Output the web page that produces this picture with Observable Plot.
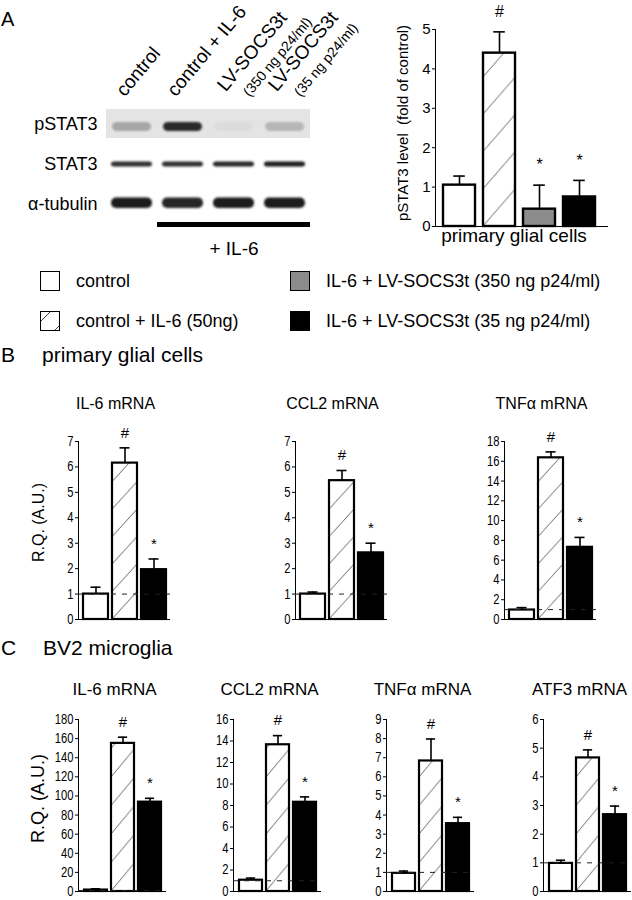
<!DOCTYPE html>
<html>
<head>
<meta charset="utf-8">
<script src="https://cdn.jsdelivr.net/npm/d3@7"></script>
<script src="https://cdn.jsdelivr.net/npm/@observablehq/plot@0.6"></script>
<style>
html,body{margin:0;padding:0;background:#fff;}
#fig{position:relative;width:632px;height:900px;overflow:hidden;background:#fff;font-family:"Liberation Sans",Arial,Helvetica,sans-serif;color:#000;}
#fig svg{position:absolute;}
.t{position:absolute;white-space:nowrap;line-height:1;}
.leg{position:absolute;display:flex;align-items:center;height:24px;white-space:nowrap;font-size:18px;}
.leg svg{position:static !important;margin-right:16px;}
</style>
</head>
<body>
<div id="fig"></div>
<script>
// ---------------- data ----------------
const groups = ["control", "control + IL-6 (50ng)", "IL-6 + LV-SOCS3t (350 ng p24/ml)", "IL-6 + LV-SOCS3t (35 ng p24/ml)"];
const groupsQ = [groups[0], groups[1], groups[3]];

// western blot (panel A, left)
const lanes = ["control", "control + IL-6", "LV-SOCS3t 350", "LV-SOCS3t 35"];
const laneLabels = ["control", "control + IL-6", "LV-SOCS3t", "LV-SOCS3t"];
const laneSubLabels = ["", "", "(350 ng p24/ml)", "(35 ng p24/ml)"];
const blotRows = ["pSTAT3", "STAT3", "α-tubulin"];
const bandPSTAT3 = [0.3, 0.9, 0.04, 0.22];
const bandSTAT3 = [0.88, 0.88, 0.92, 0.97];
const bandTubulin = [0.97, 0.92, 0.97, 0.95];
const laneIL6 = [false, true, true, true];
const il6Label = "+ IL-6";

// pSTAT3 quantification (panel A, right)
const pstatMean = [1.05, 4.4, 0.44, 0.75];
const pstatErr = [1.28, 4.94, 1.05, 1.17];
const pstatSig = ["", "#", "*", "*"];
const pstatTicks = [0, 1, 2, 3, 4, 5];

// panel B: primary glial cells
const bTitles = ["IL-6 mRNA", "CCL2 mRNA", "TNFα mRNA"];
const bIL6Mean = [1.0, 6.15, 1.96], bIL6Err = [1.27, 6.75, 2.38];
const bCCL2Mean = [1.0, 5.46, 2.62], bCCL2Err = [1.08, 5.86, 3.0];
const bTNFMean = [0.96, 16.35, 7.3], bTNFErr = [1.2, 16.95, 8.3];
const bTicks7 = [0, 1, 2, 3, 4, 5, 6, 7];
const bTicks18 = [0, 2, 4, 6, 8, 10, 12, 14, 16, 18];

// panel C: BV2 microglia
const cTitles = ["IL-6 mRNA", "CCL2 mRNA", "TNFα mRNA", "ATF3 mRNA"];
const cIL6Mean = [1.5, 155, 93.5], cIL6Err = [2.8, 161.5, 97.5];
const cCCL2Mean = [1.05, 13.65, 8.3], cCCL2Err = [1.25, 14.5, 8.8];
const cTNFMean = [0.95, 6.83, 3.55], cTNFErr = [1.07, 7.98, 3.88];
const cATF3Mean = [0.98, 4.66, 2.68], cATF3Err = [1.09, 4.94, 2.98];
const cTicks180 = [0, 20, 40, 60, 80, 100, 120, 140, 160, 180];
const cTicks16 = [0, 2, 4, 6, 8, 10, 12, 14, 16];
const cTicks9 = [0, 1, 2, 3, 4, 5, 6, 7, 8, 9];
const cTicks6 = [0, 1, 2, 3, 4, 5, 6];
const sig3 = ["", "#", "*"];
const yLabelRQ = "R.Q. (A.U.)";
const yLabelA = "pSTAT3 level  (fold of control)";
const xLabelA = "primary glial cells";

// ---------------- helpers ----------------
const fig = document.getElementById("fig");
const SANS = '"Liberation Sans", Arial, Helvetica, sans-serif';

function txt(s, left, top, size) {
  const d = document.createElement("div");
  d.className = "t"; d.textContent = s;
  d.style.left = left + "px"; d.style.top = top + "px"; d.style.fontSize = size + "px";
  fig.appendChild(d);
}
function fillFor(g, pid) {
  const i = groups.indexOf(g);
  return ["white", `url(#${pid})`, "#8c8c8c", "black"][i];
}
// horizontally condense the y tick labels (narrow digits of the original), keeping their anchor
function condenseTicks(svg, k) {
  d3.select(svg).selectAll('g[aria-label="y-axis tick label"] text').each(function () {
    let w = 0;
    try { w = this.getComputedTextLength(); } catch (e) { w = 0; }
    if (w > 0) {
      this.setAttribute("textLength", (w * k).toFixed(2));
      this.setAttribute("lengthAdjust", "spacingAndGlyphs");
    }
  });
}

function barChart(c) {
  const rows = c.groups.map((g, i) => ({g, v: c.mean[i], e: c.err[i], s: c.sig[i]}));
  const pid = "hatch-" + c.id;
  const [r0, r1] = c.xRange;
  const step = (r1 - r0) / (c.groups.length - c.pad);
  const bw = step * (1 - c.pad);
  const ph = bw * c.hatchRatio;
  const defs = () => {
    const d = d3.create("svg:defs");
    const p = d.append("pattern").attr("id", pid).attr("patternUnits", "userSpaceOnUse")
      .attr("width", bw).attr("height", ph);
    p.append("rect").attr("width", bw).attr("height", ph).attr("fill", "white");
    p.append("path").attr("d", `M0,${ph}L${bw},0`).attr("stroke", "#444").attr("stroke-width", 0.8).attr("fill", "none");
    return d.node();
  };
  const marks = [
    defs,
    Plot.barY(rows, {x: "g", y: "v", fill: "g", stroke: "black", strokeWidth: c.barStroke})
  ];
  if (c.refLine) marks.push(Plot.ruleY([1], {stroke: "#222", strokeWidth: 1, strokeDasharray: "5,6"}));
  marks.push(
    Plot.ruleX(rows, {x: "g", y1: "v", y2: "e", stroke: "black", strokeWidth: 1.6}),
    Plot.tickY(rows, {x: "g", y: "e", stroke: "black", strokeWidth: 1.6, insetLeft: (bw - c.cap) / 2, insetRight: (bw - c.cap) / 2}),
    Plot.text(rows, {x: "g", y: "e", text: "s", dy: c.sigDy, fontSize: c.sigSize, fontFamily: SANS}),
    Plot.ruleY([0], {stroke: "black", strokeWidth: 1.2})
  );
  if (c.title) marks.push(Plot.text([c.title], {text: d => d, frameAnchor: "top", textAnchor: "middle", dx: c.titleDx, dy: c.titleDy, fontSize: c.titleSize, fontFamily: SANS}));
  if (c.ylabel) marks.push(Plot.text([c.ylabel], {text: d => d, frameAnchor: "left", textAnchor: "middle", rotate: -90, dx: c.ylabelDx, dy: c.ylabelDy, fontSize: c.ylabelSize, fontFamily: SANS}));
  if (c.xlabel) marks.push(Plot.text([c.xlabel], {text: d => d, frameAnchor: "bottom", textAnchor: "middle", dx: c.xlabelDx, dy: c.xlabelDy, fontSize: c.xlabelSize, fontFamily: SANS}));
  const svg = Plot.plot({
    width: c.width, height: c.height,
    marginLeft: c.ml, marginRight: c.mr, marginTop: c.mt, marginBottom: c.mb,
    style: {background: "transparent", overflow: "visible", fontFamily: SANS, fontSize: c.tickSize + "px", color: "black"},
    x: {type: "band", domain: c.groups, range: c.xRange, paddingInner: c.pad, paddingOuter: 0, axis: null},
    y: {domain: [0, c.max], ticks: c.ticks, tickFormat: d => String(d), tickSize: 3, tickPadding: 2, line: true, label: null},
    color: {type: "ordinal", domain: c.groups, range: c.groups.map(g => fillFor(g, pid))},
    marks
  });
  try {
    const sx = svg.scale("x"), sy = svg.scale("y");
    d3.select(svg).select("pattern").attr("x", sx.apply(c.groups[1])).attr("y", sy.apply(0));
  } catch (e) {}
  svg.style.left = c.left + "px";
  svg.style.top = c.top + "px";
  fig.appendChild(svg);
  if (c.condense) condenseTicks(svg, c.condense);
  return svg;
}

// ---------------- panel A: headers ----------------
txt("A", 1, 9, 20);

// ---------------- panel A: blot ----------------
{
  const laneData = lanes.map((l, i) => ({lane: l, label: laneLabels[i], sub: laneSubLabels[i]}));
  const pRows = lanes.map((l, i) => ({lane: l, row: blotRows[0], v: bandPSTAT3[i]}));
  const sRows = lanes.map((l, i) => ({lane: l, row: blotRows[1], v: bandSTAT3[i]}));
  const tRows = lanes.map((l, i) => ({lane: l, row: blotRows[2], v: bandTubulin[i]}));
  const il6 = lanes.filter((l, i) => laneIL6[i]);
  const defs = () => {
    const d = d3.create("svg:defs");
    d.append("filter").attr("id", "blotBlur").attr("x", "-20%").attr("y", "-60%").attr("width", "140%").attr("height", "220%")
      .append("feGaussianBlur").attr("stdDeviation", 1.3);
    return d.node();
  };
  const svg = Plot.plot({
    width: 360, height: 260, marginLeft: 105, marginRight: 50, marginTop: 104, marginBottom: 36,
    style: {background: "transparent", overflow: "visible", fontFamily: SANS, fontSize: "18px", color: "black"},
    x: {domain: lanes, range: [105, 310], padding: 0, axis: null},
    y: {domain: blotRows, padding: 0, tickSize: 0, tickPadding: 8, label: null},
    color: {type: "linear", domain: [0, 1], range: ["#e4e4e4", "#141414"]},
    marks: [
      defs,
      Plot.cell(lanes, {x: d => d, y: () => blotRows[0], fill: "#e4e4e4", insetTop: 5, insetBottom: 6}),
      Plot.cell(pRows, {x: "lane", y: "row", fill: "v", insetTop: 18, insetBottom: 13, insetLeft: 6, insetRight: 6, rx: 5}),
      Plot.cell(sRows, {x: "lane", y: "row", fill: "v", insetTop: 17.5, insetBottom: 17.5, insetLeft: 5, insetRight: 5, rx: 3}),
      Plot.cell(tRows, {x: "lane", y: "row", fill: "v", insetTop: 13.5, insetBottom: 16, insetLeft: 5, insetRight: 5, rx: 5}),
      Plot.cell(il6, {x: d => d, y: () => blotRows[2], fill: "black", insetTop: 38, insetBottom: -3}),
      Plot.text([il6Label], {text: d => d, x: () => lanes[2], y: () => blotRows[2], dy: 44, fontSize: 19}),
      Plot.text(laneData.filter(d => !d.sub), {x: "lane", y: () => blotRows[0], text: "label", rotate: -50, textAnchor: "start", dx: -12, dy: -31, fontSize: 19}),
      Plot.text(laneData.filter(d => d.sub), {x: "lane", y: () => blotRows[0], text: "label", rotate: -50, textAnchor: "start", dx: -13, dy: -36, fontSize: 19}),
      Plot.text(laneData.filter(d => d.sub), {x: "lane", y: () => blotRows[0], text: "sub", rotate: -50, textAnchor: "start", dx: 12, dy: -30, fontSize: 14})
    ]
  });
  d3.select(svg).selectAll('g[aria-label="cell"]').filter((d, i) => i >= 1 && i <= 3).attr("filter", "url(#blotBlur)");
  svg.style.left = "0px"; svg.style.top = "0px";
  fig.appendChild(svg);
}

// ---------------- panel A: pSTAT3 bars ----------------
barChart({
  id: "A", groups, mean: pstatMean, err: pstatErr, sig: pstatSig,
  max: 5, ticks: pstatTicks,
  left: 340, top: 0, width: 275, height: 260, ml: 95, mr: 7, mt: 29, mb: 34,
  xRange: [102, 256], pad: 0.2, hatchRatio: 1.15, barStroke: 2.4, cap: 12,
  sigDy: -20, sigSize: 16, tickSize: 15, refLine: false,
  ylabel: yLabelA, ylabelDx: -32, ylabelDy: -5, ylabelSize: 15,
  xlabel: xLabelA, xlabelDx: -8, xlabelDy: 15, xlabelSize: 19
});

// ---------------- legend ----------------
{
  const sw = [
    '<rect x="0.5" y="0.5" width="19" height="19" fill="white" stroke="black"/>',
    '<rect x="0.5" y="0.5" width="19" height="19" fill="white" stroke="black"/><path d="M1,10 L10,1 M15,19 L19,15" stroke="#444" fill="none"/>',
    '<rect x="0.5" y="0.5" width="19" height="19" fill="#8c8c8c" stroke="black"/>',
    '<rect x="0.5" y="0.5" width="19" height="19" fill="black" stroke="black"/>'
  ];
  const pos = [[40, 269], [40, 309], [290, 269], [290, 309]];
  groups.forEach((g, i) => {
    const d = document.createElement("div");
    d.className = "leg";
    d.style.left = pos[i][0] + "px"; d.style.top = pos[i][1] + "px";
    d.innerHTML = `<svg width="20" height="20" viewBox="0 0 20 20">${sw[i]}</svg><span>${g}</span>`;
    fig.appendChild(d);
  });
}

// ---------------- panel B ----------------
txt("B", 1, 344, 21);
txt("primary glial cells", 42, 344, 21);
const bAxes = [78, 295, 504];
const bSets = [[bIL6Mean, bIL6Err, 7, bTicks7], [bCCL2Mean, bCCL2Err, 7, bTicks7], [bTNFMean, bTNFErr, 18, bTicks18]];
bSets.forEach(([m, e, mx, tk], k) => {
  barChart({
    id: "B" + k, groups: groupsQ, mean: m, err: e, sig: sig3, max: mx, ticks: tk,
    left: bAxes[k] - 50, top: 400, width: 146, height: 225, ml: 50, mr: 4, mt: 41, mb: 6,
    xRange: [55, 138], pad: 0.14, hatchRatio: 1.1, barStroke: 2.2, cap: 10,
    sigDy: -15, sigSize: 15, tickSize: 14, condense: 0.8, refLine: true,
    title: bTitles[k], titleDx: -9, titleDy: -44, titleSize: 16,
    ylabel: k === 0 ? yLabelRQ : null, ylabelDx: -40, ylabelDy: -8, ylabelSize: 16
  });
});

// ---------------- panel C ----------------
txt("C", 1, 637, 21);
txt("BV2 microglia", 43, 637, 21);
const cAxes = [78, 233, 386, 543];
const cSets = [[cIL6Mean, cIL6Err, 180, cTicks180], [cCCL2Mean, cCCL2Err, 16, cTicks16], [cTNFMean, cTNFErr, 9, cTicks9], [cATF3Mean, cATF3Err, 6, cTicks6]];
cSets.forEach(([m, e, mx, tk], k) => {
  barChart({
    id: "C" + k, groups: groupsQ, mean: m, err: e, sig: sig3, max: mx, ticks: tk,
    left: cAxes[k] - 50, top: 660, width: 141, height: 237, ml: 50, mr: 3, mt: 59, mb: 6,
    xRange: [55, 134], pad: 0.14, hatchRatio: 1.2, barStroke: 2.2, cap: 10,
    sigDy: -15, sigSize: 15, tickSize: 14, condense: 0.8, refLine: true,
    title: cTitles[k], titleDx: -8, titleDy: -37, titleSize: 17,
    ylabel: k === 0 ? yLabelRQ : null, ylabelDx: -40, ylabelDy: -7, ylabelSize: 18
  });
});
</script>
</body>
</html>
